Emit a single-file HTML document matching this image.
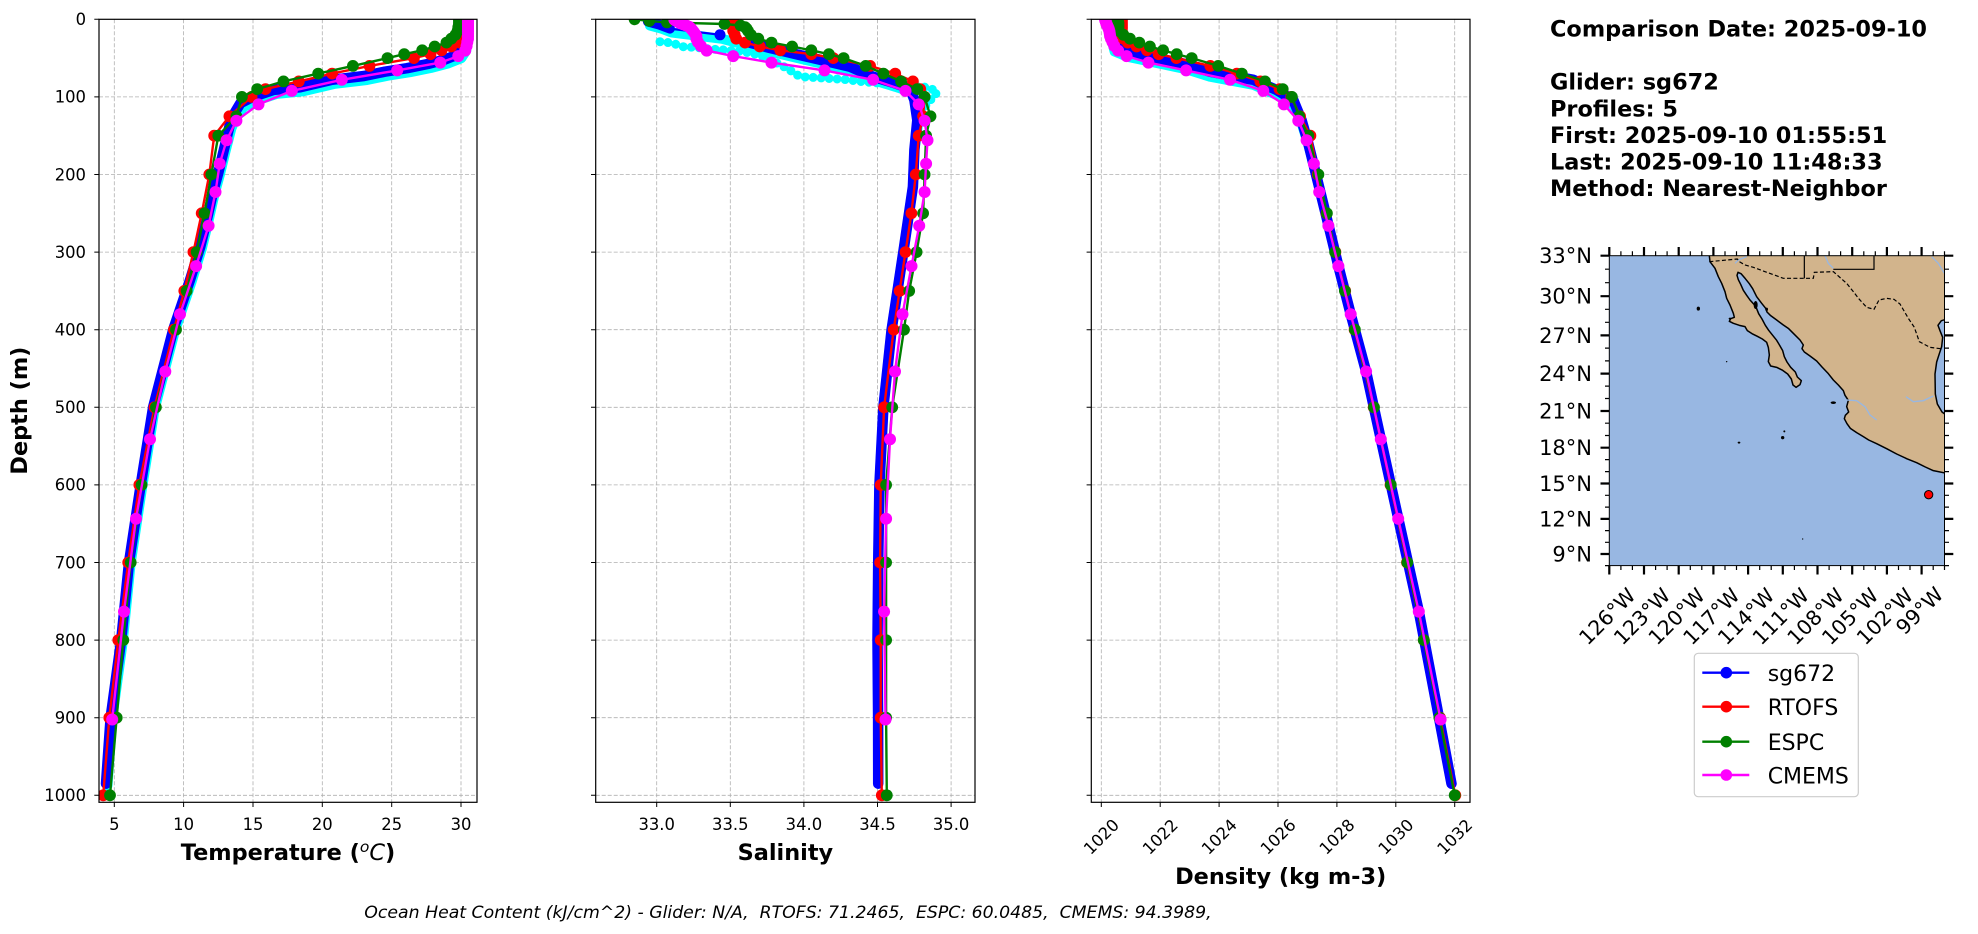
<!DOCTYPE html>
<html><head><meta charset="utf-8"><style>
html,body{margin:0;padding:0;background:#fff;width:1978px;height:934px;overflow:hidden}
svg{display:block}
text{font-family:"DejaVu Sans","Liberation Sans",sans-serif;fill:#000}
</style></head><body>
<svg width="1978" height="934" viewBox="0 0 1978 934" xmlns="http://www.w3.org/2000/svg">
<defs>
<clipPath id="c1"><rect x="99" y="19.3" width="378" height="783"/></clipPath>
<clipPath id="c2"><rect x="595.7" y="19.3" width="379.3" height="783"/></clipPath>
<clipPath id="c3"><rect x="1091.3" y="19.3" width="378.7" height="783"/></clipPath>
<clipPath id="cm"><rect x="328" y="77" width="1005.5" height="930"/></clipPath>
<marker id="mr" markerWidth="14" markerHeight="14" refX="7" refY="7" markerUnits="userSpaceOnUse"><circle cx="7" cy="7" r="5.9" fill="#ff0000"/></marker>
<marker id="mg" markerWidth="14" markerHeight="14" refX="7" refY="7" markerUnits="userSpaceOnUse"><circle cx="7" cy="7" r="5.9" fill="#008000"/></marker>
<marker id="mm" markerWidth="14" markerHeight="14" refX="7" refY="7" markerUnits="userSpaceOnUse"><circle cx="7" cy="7" r="6" fill="#ff00ff"/></marker>
</defs>
<rect width="1978" height="934" fill="#fff"/>

<!-- ===== GRID ===== -->
<g stroke="#b0b0b0" stroke-width="0.8" stroke-dasharray="4,2" fill="none">
<path d="M114.3,19.3V802.3M183.6,19.3V802.3M253,19.3V802.3M322.3,19.3V802.3M391.7,19.3V802.3M461,19.3V802.3"/>
<path d="M99,96.9H477M99,174.5H477M99,252.1H477M99,329.7H477M99,407.3H477M99,484.9H477M99,562.5H477M99,640.1H477M99,717.7H477M99,795.3H477"/>
<path d="M656.7,19.3V802.3M730.3,19.3V802.3M803.9,19.3V802.3M877.5,19.3V802.3M951.1,19.3V802.3"/>
<path d="M595.7,96.9H975M595.7,174.5H975M595.7,252.1H975M595.7,329.7H975M595.7,407.3H975M595.7,484.9H975M595.7,562.5H975M595.7,640.1H975M595.7,717.7H975M595.7,795.3H975"/>
<path d="M1101.3,19.3V802.3M1160.2,19.3V802.3M1219.1,19.3V802.3M1278,19.3V802.3M1336.9,19.3V802.3M1395.8,19.3V802.3M1454.7,19.3V802.3"/>
<path d="M1091.3,96.9H1470M1091.3,174.5H1470M1091.3,252.1H1470M1091.3,329.7H1470M1091.3,407.3H1470M1091.3,484.9H1470M1091.3,562.5H1470M1091.3,640.1H1470M1091.3,717.7H1470M1091.3,795.3H1470"/>
</g>

<!-- ===== PANEL 1: TEMPERATURE ===== -->
<g clip-path="url(#c1)" fill="none" stroke-linejoin="round" stroke-linecap="round">
<polyline stroke="#00ffff" stroke-width="10" points="467.5,23.3 467.5,38.8 466.3,50.5 461.3,58.2 447.4,63.7 430.8,68.0 410.0,72.2 387.8,75.7 367.0,80.0 335.1,83.8 303.2,91.3 276.8,93.9 256.0,100.7 243.5,107.1 235.6,118.7 231.4,128.4 225.4,151.7 219.8,174.9 214.3,195.1 208.2,222.3 201.8,248.7 191.5,282.0 174.7,331.7 154.6,409.3 142.2,486.9 130.5,564.5 122.7,642.1 112.1,719.7 107.5,785.7"/>
<polyline stroke="#0000ff" stroke-width="10.5" points="465.2,19.3 465.2,34.8 463.8,46.5 458.3,54.2 444.4,59.7 427.8,64.0 407.0,68.2 384.8,71.7 364.0,76.0 332.1,79.8 300.2,87.3 273.8,89.9 253.0,96.7 240.5,103.1 233.6,114.7 229.4,126.4 223.9,149.7 218.3,172.9 212.8,193.1 206.7,220.3 200.3,246.7 190.0,280.0 173.2,329.7 153.1,407.3 140.7,484.9 129.0,562.5 121.2,640.1 110.6,717.7 106.0,783.7"/>
<polyline stroke="#ff0000" stroke-width="2.4" marker-start="url(#mr)" marker-mid="url(#mr)" marker-end="url(#mr)" points="462.4,19.3 462.4,20.9 462.4,22.4 462.4,24.0 462.4,25.5 462.4,27.1 462.4,28.6 462.4,30.9 461.7,34.8 461.0,38.7 459.7,42.6 451.3,46.5 441.6,50.3 430.5,54.2 413.9,58.1 369.5,65.9 332.1,73.6 298.8,81.4 265.5,89.1 251.6,96.9 229.4,116.3 214.2,135.7 209.3,174.5 201.7,213.3 193.4,252.1 184.3,290.9 173.9,329.7 154.5,407.3 139.3,484.9 128.2,562.5 118.3,640.1 109.3,717.7 103.2,795.3"/>
<polyline stroke="#008000" stroke-width="2.4" marker-start="url(#mg)" marker-mid="url(#mg)" marker-end="url(#mg)" points="459.0,19.3 459.0,20.9 459.0,22.4 459.0,24.0 459.0,25.5 458.3,27.1 458.3,28.6 457.6,30.9 455.5,34.8 451.3,38.7 446.5,42.6 434.7,46.5 422.2,50.3 404.2,54.2 387.5,58.1 352.9,65.9 318.2,73.6 283.5,81.4 257.2,89.1 241.9,96.9 236.4,116.3 218.3,135.7 211.4,174.5 204.5,213.3 196.7,252.1 186.7,290.9 176.0,329.7 155.9,407.3 141.6,484.9 130.7,562.5 123.3,640.1 116.7,717.7 110.0,795.3"/>
<polyline stroke="#ff00ff" stroke-width="2.4" marker-start="url(#mm)" marker-mid="url(#mm)" marker-end="url(#mm)" points="468.0,19.7 468.0,20.5 468.0,21.3 468.0,22.3 468.0,23.3 468.0,24.3 468.0,25.4 468.0,26.7 468.0,28.1 468.0,29.8 468.0,31.6 468.0,33.7 468.0,36.1 468.0,38.9 467.3,42.1 466.6,46.0 465.2,50.6 458.3,56.1 440.3,62.6 397.2,70.4 341.8,79.8 291.8,90.9 258.5,104.4 236.4,120.7 226.6,140.3 219.7,163.7 215.5,192.0 208.6,225.7 196.1,266.1 180.0,314.3 165.3,371.5 150.0,439.2 136.0,518.7 124.0,611.6 112.2,719.5"/>
</g>

<!-- ===== PANEL 2: SALINITY ===== -->
<g clip-path="url(#c2)" fill="none" stroke-linejoin="round" stroke-linecap="round">
<polyline stroke="#00ffff" stroke-width="9" stroke-dasharray="0,8" points="660,41.7 672,43 683,46.7 697,47.5 710,49 725,50 743,51.7 760,55 775,62 787,68.3 800,76.7 815,77.5 827,78.3 845,79.5 863,81.7 878,83 893,85 910,86 923,86.7 937,90.7 935,96 928,102 922,112 919,125"/>
<polyline stroke="#00ffff" stroke-width="10" points="649.9,23.3 649.9,25.6 661.6,28.7 671.9,32.6 722.0,38.8 748.5,45.8 772.0,52.0 801.5,59.0 822.1,63.7 851.5,70.6 875.1,80.7 895.7,86.9 911.9,92.4 916.4,104.0 918.3,122.2 914.4,149.7 912.9,186.9 903.3,252.1 891.6,329.7 883.4,407.3 879.4,484.9 878.2,562.5 877.5,640.1 878.1,717.7 878.2,783.7"/>
<polyline stroke="#0000ff" stroke-width="2.2" points="669.9,28.6 720.0,34.8"/>
<polyline stroke="#0000ff" stroke-width="10" points="647.9,19.3 647.9,21.6 659.6,24.7 669.9,28.6"/>
<circle cx="720" cy="34.8" r="5.5" fill="#0000ff"/>
<polyline stroke="#0000ff" stroke-width="10.5" points="746.5,41.8 770.0,48.0 799.5,55.0 820.1,59.7 849.5,66.6 873.1,76.7 893.7,82.9 909.9,88.4 914.4,100.0 917.3,120.2 914.4,149.7 912.9,186.9 903.3,252.1 891.6,329.7 883.4,407.3 879.4,484.9 878.2,562.5 877.5,640.1 878.1,717.7 878.2,783.7"/>
<polyline stroke="#ff0000" stroke-width="2.4" marker-start="url(#mr)" marker-mid="url(#mr)" marker-end="url(#mr)" points="733.2,19.3 733.2,20.9 733.2,22.4 733.2,24.0 733.2,25.5 733.2,27.1 733.2,28.6 733.2,30.9 734.7,34.8 736.2,38.7 745.0,42.6 759.7,46.5 780.3,50.3 811.3,54.2 833.3,58.1 870.1,65.9 895.2,73.6 912.9,81.4 920.2,89.1 924.6,96.9 923.1,116.3 918.7,135.7 915.8,174.5 911.4,213.3 905.5,252.1 899.6,290.9 893.7,329.7 884.1,407.3 880.7,484.9 880.1,562.5 880.7,640.1 880.7,717.7 881.8,795.3"/>
<polyline stroke="#008000" stroke-width="2.4" marker-start="url(#mg)" marker-mid="url(#mg)" marker-end="url(#mg)" points="634.6,19.3 649.3,20.9 667.0,22.4 724.4,24.0 740.6,25.5 745.0,27.1 746.5,28.6 748.0,30.9 750.9,34.8 758.3,38.7 771.5,42.6 792.1,46.5 811.3,50.3 828.9,54.2 843.6,58.1 865.7,65.9 883.4,73.6 901.1,81.4 917.3,89.1 924.6,96.9 930.5,116.3 926.1,135.7 924.6,174.5 923.1,213.3 916.6,252.1 909.2,290.9 904.0,329.7 892.2,407.3 886.1,484.9 886.1,562.5 886.1,640.1 886.1,717.7 886.8,795.3"/>
<polyline stroke="#ff00ff" stroke-width="2.4" marker-start="url(#mm)" marker-mid="url(#mm)" marker-end="url(#mm)" points="674.4,19.7 675.8,20.5 677.3,21.3 678.8,22.3 680.3,23.3 683.2,24.3 686.1,25.4 689.1,26.7 690.6,28.1 692.0,29.8 693.5,31.6 695.0,33.7 696.4,36.1 696.4,38.9 697.9,42.1 700.9,46.0 706.7,50.6 733.2,56.1 771.5,62.6 824.5,70.4 873.1,79.8 905.5,90.9 918.7,104.4 924.6,120.7 927.5,140.3 926.1,163.7 924.6,192.0 919.2,225.7 911.5,266.1 902.5,314.3 895.0,371.5 890.0,439.2 886.1,518.7 884.1,611.6 885.5,719.5"/>
</g>

<!-- ===== PANEL 3: DENSITY ===== -->
<g clip-path="url(#c3)" fill="none" stroke-linejoin="round" stroke-linecap="round">
<polyline stroke="#00ffff" stroke-width="10" points="1111.6,24.3 1111.6,39.8 1114.6,51.5 1127.8,56.9 1157.3,63.1 1186.7,69.3 1210.0,76.7 1253.3,84.8 1276.5,94.9 1293.3,105.0 1301.6,123.2 1308.3,144.5 1316.6,176.8 1328.4,224.9 1338.4,266.1 1350.7,314.2 1366.1,371.6 1380.8,439.1 1398.2,518.3 1418.8,611.4 1439,717.7 1451.5,783.7"/>
<polyline stroke="#0000ff" stroke-width="10.5" points="1111.6,19.3 1111.6,34.8 1114.6,46.5 1127.8,51.9 1157.3,58.1 1186.7,64.3 1210.0,71.7 1253.3,79.8 1276.5,89.9 1293.3,100.0 1301.6,120.2 1308.3,143.5 1316.6,176.8 1328.4,224.9 1338.4,266.1 1350.7,314.2 1366.1,371.6 1380.8,439.1 1398.2,518.3 1418.8,611.4 1439,717.7 1451.5,783.7"/>
<polyline stroke="#ff0000" stroke-width="2.4" marker-start="url(#mr)" marker-mid="url(#mr)" marker-end="url(#mr)" points="1121.9,19.3 1121.9,20.9 1121.9,22.4 1121.9,24.0 1121.9,25.5 1121.9,27.1 1121.9,28.6 1121.9,30.9 1121.9,34.8 1123.4,38.7 1127.8,42.6 1136.6,46.5 1146.9,50.3 1158.7,54.2 1176.4,58.1 1210.3,65.9 1236.8,73.6 1260.3,81.4 1279.5,89.1 1291.3,96.9 1300.1,116.3 1310.4,135.7 1317.8,174.5 1326.6,213.3 1335.4,252.1 1345.2,290.9 1354.6,329.7 1373.7,407.3 1390.5,484.9 1407.0,562.5 1423.8,640.1 1440.0,717.7 1455.3,795.3"/>
<polyline stroke="#008000" stroke-width="2.4" marker-start="url(#mg)" marker-mid="url(#mg)" marker-end="url(#mg)" points="1117.5,19.3 1117.5,20.9 1118.4,22.4 1118.4,24.0 1118.4,25.5 1118.4,27.1 1118.4,28.6 1118.4,30.9 1123.4,34.8 1129.9,38.7 1139.3,42.6 1149.9,46.5 1163.1,50.3 1176.7,54.2 1191.7,58.1 1218.2,65.9 1241.8,73.6 1265.0,81.4 1282.7,89.1 1291.9,96.9 1299.2,116.3 1308.3,135.7 1318.4,174.5 1326.9,213.3 1335.1,252.1 1344.9,290.9 1354.9,329.7 1374.0,407.3 1390.8,484.9 1407.3,562.5 1423.8,640.1 1439.4,717.7 1454.7,795.3"/>
<polyline stroke="#ff00ff" stroke-width="2.4" marker-start="url(#mm)" marker-mid="url(#mm)" marker-end="url(#mm)" points="1105.1,19.7 1105.4,20.5 1105.7,21.3 1106.0,22.3 1106.3,23.3 1106.6,24.3 1107.2,25.4 1107.8,26.7 1108.4,28.1 1109.0,29.8 1109.5,31.6 1109.8,33.7 1110.1,36.1 1111.0,38.9 1112.5,42.1 1114.3,46.0 1118.1,50.6 1126.6,56.1 1148.4,62.6 1186.1,70.4 1230.0,79.8 1263.3,90.9 1283.9,104.4 1298.3,120.7 1306.6,140.3 1313.9,163.7 1319.2,192.0 1328.4,225.7 1338.4,266.1 1350.7,314.3 1366.1,371.5 1380.8,439.2 1398.2,518.7 1418.8,611.6 1440.6,719.5"/>
</g>

<!-- ===== SPINES & TICKS ===== -->
<g fill="none" stroke="#000">
<rect x="99" y="19.3" width="378" height="783" stroke-width="1.2"/>
<rect x="595.7" y="19.3" width="379.3" height="783" stroke-width="1.2"/>
<rect x="1091.3" y="19.3" width="378.7" height="783" stroke-width="1.2"/>
<path stroke-width="1" d="M94.3,19.3H99M94.3,96.9H99M94.3,174.5H99M94.3,252.1H99M94.3,329.7H99M94.3,407.3H99M94.3,484.9H99M94.3,562.5H99M94.3,640.1H99M94.3,717.7H99M94.3,795.3H99"/>
<path stroke-width="1" d="M591,19.3H595.7M591,96.9H595.7M591,174.5H595.7M591,252.1H595.7M591,329.7H595.7M591,407.3H595.7M591,484.9H595.7M591,562.5H595.7M591,640.1H595.7M591,717.7H595.7M591,795.3H595.7"/>
<path stroke-width="1" d="M1086.6,19.3H1091.3M1086.6,96.9H1091.3M1086.6,174.5H1091.3M1086.6,252.1H1091.3M1086.6,329.7H1091.3M1086.6,407.3H1091.3M1086.6,484.9H1091.3M1086.6,562.5H1091.3M1086.6,640.1H1091.3M1086.6,717.7H1091.3M1086.6,795.3H1091.3"/>
<path stroke-width="1" d="M114.3,802.3V807M183.6,802.3V807M253,802.3V807M322.3,802.3V807M391.7,802.3V807M461,802.3V807"/>
<path stroke-width="1" d="M656.7,802.3V807M730.3,802.3V807M803.9,802.3V807M877.5,802.3V807M951.1,802.3V807"/>
<path stroke-width="1" d="M1101.3,802.3V807M1160.2,802.3V807M1219.1,802.3V807M1278,802.3V807M1336.9,802.3V807M1395.8,802.3V807M1454.7,802.3V807"/>
</g>

<!-- tick labels -->
<g font-size="16.4" text-anchor="end">
<text x="86" y="25.1">0</text>
<text x="86" y="102.7">100</text>
<text x="86" y="180.3">200</text>
<text x="86" y="257.9">300</text>
<text x="86" y="335.5">400</text>
<text x="86" y="413.1">500</text>
<text x="86" y="490.7">600</text>
<text x="86" y="568.3">700</text>
<text x="86" y="645.9">800</text>
<text x="86" y="723.5">900</text>
<text x="86" y="801.1">1000</text>
</g>
<g font-size="16.4" text-anchor="middle">
<text x="114.3" y="830">5</text>
<text x="183.6" y="830">10</text>
<text x="253" y="830">15</text>
<text x="322.3" y="830">20</text>
<text x="391.7" y="830">25</text>
<text x="461" y="830">30</text>
<text x="656.7" y="830">33.0</text>
<text x="730.3" y="830">33.5</text>
<text x="803.9" y="830">34.0</text>
<text x="877.5" y="830">34.5</text>
<text x="951.1" y="830">35.0</text>
<text x="1101.3" y="842.5" transform="rotate(-45 1101.3 836.7)">1020</text>
<text x="1160.2" y="842.5" transform="rotate(-45 1160.2 836.7)">1022</text>
<text x="1219.1" y="842.5" transform="rotate(-45 1219.1 836.7)">1024</text>
<text x="1278" y="842.5" transform="rotate(-45 1278 836.7)">1026</text>
<text x="1336.9" y="842.5" transform="rotate(-45 1336.9 836.7)">1028</text>
<text x="1395.8" y="842.5" transform="rotate(-45 1395.8 836.7)">1030</text>
<text x="1454.7" y="842.5" transform="rotate(-45 1454.7 836.7)">1032</text>
</g>

<!-- axis labels -->
<g font-size="22.4" font-weight="bold" text-anchor="middle">
<text x="288" y="860">Temperature (<tspan font-weight="normal" font-style="italic" font-size="15.5" dy="-8">o</tspan><tspan font-weight="normal" font-style="italic" dy="8">C</tspan>)</text>
<text x="785.4" y="860">Salinity</text>
<text x="1280.7" y="884">Density (kg m-3)</text>
<text x="0" y="0" transform="translate(27 410.6) rotate(-90)">Depth (m)</text>
</g>

<text x="364.3" y="918" font-size="17.3" font-style="italic" style="white-space:pre" xml:space="preserve">Ocean Heat Content (kJ/cm^2) - Glider: N/A,  RTOFS: 71.2465,  ESPC: 60.0485,  CMEMS: 94.3989,</text>

<!-- info text -->
<g font-size="22.4" font-weight="bold">
<text x="1550" y="36.5">Comparison Date: 2025-09-10</text>
<text x="1550" y="89.7">Glider: sg672</text>
<text x="1550" y="116.3">Profiles: 5</text>
<text x="1550" y="142.9">First: 2025-09-10 01:55:51</text>
<text x="1550" y="169.5">Last: 2025-09-10 11:48:33</text>
<text x="1550" y="196.1">Method: Nearest-Neighbor</text>
</g>

<!-- ===== MAP ===== -->
<g transform="translate(1500 230) scale(0.333333)">
<g clip-path="url(#cm)">
<rect x="328" y="77" width="1006" height="930" fill="#98b7e2"/>
<path fill="#d2b48c" stroke="#000" stroke-width="4.5" stroke-linejoin="round" d="M628,77 L630,95 L645,115 L655,140 L665,160 L675,185 L680,205 L690,225 L700,250 L703,262 L692,266 L688,274 L700,280 L718,286 L735,290 L742,302 L756,311 L772,319 L787,327 L800,337 L805,352 L808,375 L805,395 L812,408 L830,412 L848,421 L863,432 L874,447 L879,465 L888,472 L900,464 L904,452 L892,441 L886,426 L872,412 L861,396 L853,380 L848,362 L839,346 L830,331 L818,316 L806,301 L796,286 L786,267 L776,251 L770,236 L762,223 L750,210 L740,196 L730,181 L722,163 L715,149 L711,136 L714,127 L723,131 L736,146 L748,161 L758,176 L770,200 L785,220 L797,235 L801,246 L812,257 L830,270 L850,285 L866,296 L881,311 L900,330 L910,345 L906,356 L913,366 L930,378 L950,393 L966,411 L985,431 L1000,450 L1015,465 L1030,482 L1035,496 L1045,511 L1040,530 L1046,546 L1036,556 L1033,566 L1041,581 L1051,595 L1070,608 L1090,620 L1106,630 L1130,641 L1160,656 L1190,672 L1220,686 L1250,698 L1276,711 L1300,722 L1345,731 L1345,560 L1326,546 L1312,522 L1306,492 L1305,432 L1310,396 L1318,371 L1325,350 L1328,322 L1320,302 L1314,286 L1324,272 L1345,266 L1345,60 L628,60 Z"/>
<g fill="none" stroke="#98b7e2" stroke-width="4">
<path d="M1040,510 L1070,512 L1095,530 L1110,555 L1130,570"/>
<path d="M1218,500 L1240,515 L1270,512 L1300,498"/>
<path d="M1295,80 L1315,100 L1333,130"/>
<path d="M705,100 L715,90 L740,80"/>
<path d="M975,77 L985,100 L1000,115"/>
</g>
<g fill="none" stroke="#000" stroke-width="3.6" stroke-dasharray="12,7">
<path d="M628,95 L712,87 L718,95 L735,105 L760,112 L850,145 L913,145 L940,145 L943,127 L1000,125 L1040,160 L1060,185 L1078,208 L1100,232 L1122,238 L1137,210 L1160,205 L1182,208 L1200,222 L1225,265 L1243,292 L1258,335 L1290,352 L1328,357"/>
</g>
<path fill="none" stroke="#000" stroke-width="3.6" d="M913,77 L913,145 M1000,118 L1122,118 L1122,77"/>
<g fill="#000">
<ellipse cx="595" cy="236" rx="5" ry="6"/>
<ellipse cx="690" cy="266" rx="4" ry="3"/>
<ellipse cx="767" cy="225" rx="6" ry="12"/>
<ellipse cx="800" cy="238" rx="4" ry="5"/>
<ellipse cx="717" cy="638" rx="4" ry="3"/>
<ellipse cx="848" cy="623" rx="5" ry="5"/>
<ellipse cx="853" cy="604" rx="3" ry="3"/>
<ellipse cx="1000" cy="518" rx="8" ry="4"/>
<ellipse cx="908" cy="927" rx="2" ry="2"/>
<ellipse cx="680" cy="395" rx="2" ry="2"/>
</g>
<circle cx="1286" cy="794" r="12.5" fill="#ff0000" stroke="#000" stroke-width="3"/>
</g>
</g>
<rect x="1609.3" y="255.7" width="335.2" height="309.9" fill="none" stroke="#000" stroke-width="1"/>
<!-- map ticks -->
<g stroke="#000" fill="none">
<path stroke-width="2.2" d="M1609.3,255.7V247M1644,255.7V247M1678.7,255.7V247M1713.4,255.7V247M1748.1,255.7V247M1782.8,255.7V247M1817.5,255.7V247M1852.2,255.7V247M1886.9,255.7V247M1921.6,255.7V247
M1609.3,565.6V574.5M1644,565.6V574.5M1678.7,565.6V574.5M1713.4,565.6V574.5M1748.1,565.6V574.5M1782.8,565.6V574.5M1817.5,565.6V574.5M1852.2,565.6V574.5M1886.9,565.6V574.5M1921.6,565.6V574.5
M1609.3,255.7H1600.5M1609.3,296.2H1600.5M1609.3,335.4H1600.5M1609.3,373.6H1600.5M1609.3,411H1600.5M1609.3,447.7H1600.5M1609.3,483.5H1600.5M1609.3,518.9H1600.5M1609.3,554H1600.5
M1944.5,255.7H1953.3M1944.5,296.2H1953.3M1944.5,335.4H1953.3M1944.5,373.6H1953.3M1944.5,411H1953.3M1944.5,447.7H1953.3M1944.5,483.5H1953.3M1944.5,518.9H1953.3M1944.5,554H1953.3"/>
<path stroke-width="1.2" d="M1620.9,255.7V251.2M1632.4,255.7V251.2M1655.6,255.7V251.2M1667.1,255.7V251.2M1690.3,255.7V251.2M1701.8,255.7V251.2M1725,255.7V251.2M1736.5,255.7V251.2M1759.7,255.7V251.2M1771.2,255.7V251.2M1794.4,255.7V251.2M1805.9,255.7V251.2M1829.1,255.7V251.2M1840.6,255.7V251.2M1863.8,255.7V251.2M1875.3,255.7V251.2M1898.5,255.7V251.2M1910,255.7V251.2M1933.2,255.7V251.2M1944.5,255.7V251.2
M1620.9,565.6V570M1632.4,565.6V570M1655.6,565.6V570M1667.1,565.6V570M1690.3,565.6V570M1701.8,565.6V570M1725,565.6V570M1736.5,565.6V570M1759.7,565.6V570M1771.2,565.6V570M1794.4,565.6V570M1805.9,565.6V570M1829.1,565.6V570M1840.6,565.6V570M1863.8,565.6V570M1875.3,565.6V570M1898.5,565.6V570M1910,565.6V570M1933.2,565.6V570M1944.5,565.6V570
M1609.3,269.2H1605M1609.3,282.7H1605M1609.3,309.3H1605M1609.3,322.3H1605M1609.3,348.1H1605M1609.3,360.9H1605M1609.3,386.1H1605M1609.3,398.5H1605M1609.3,423.2H1605M1609.3,435.5H1605M1609.3,459.6H1605M1609.3,471.6H1605M1609.3,495.3H1605M1609.3,507.1H1605M1609.3,530.6H1605M1609.3,542.3H1605M1609.3,565.6H1605
M1944.5,269.2H1949M1944.5,282.7H1949M1944.5,309.3H1949M1944.5,322.3H1949M1944.5,348.1H1949M1944.5,360.9H1949M1944.5,386.1H1949M1944.5,398.5H1949M1944.5,423.2H1949M1944.5,435.5H1949M1944.5,459.6H1949M1944.5,471.6H1949M1944.5,495.3H1949M1944.5,507.1H1949M1944.5,530.6H1949M1944.5,542.3H1949M1944.5,565.6H1949"/>
</g>
<g font-size="21" text-anchor="end">
<text x="1592" y="263.2">33°N</text>
<text x="1592" y="303.7">30°N</text>
<text x="1592" y="342.9">27°N</text>
<text x="1592" y="381.1">24°N</text>
<text x="1592" y="418.5">21°N</text>
<text x="1592" y="455.2">18°N</text>
<text x="1592" y="491">15°N</text>
<text x="1592" y="526.4">12°N</text>
<text x="1592" y="561.5">9°N</text>
</g>
<g font-size="20.5" text-anchor="middle">
<text x="1607.3" y="623.5" transform="rotate(-45 1607.3 616.5)">126°W</text>
<text x="1642" y="623.5" transform="rotate(-45 1642 616.5)">123°W</text>
<text x="1676.7" y="623.5" transform="rotate(-45 1676.7 616.5)">120°W</text>
<text x="1711.4" y="623.5" transform="rotate(-45 1711.4 616.5)">117°W</text>
<text x="1746.1" y="623.5" transform="rotate(-45 1746.1 616.5)">114°W</text>
<text x="1780.8" y="623.5" transform="rotate(-45 1780.8 616.5)">111°W</text>
<text x="1815.5" y="623.5" transform="rotate(-45 1815.5 616.5)">108°W</text>
<text x="1850.2" y="623.5" transform="rotate(-45 1850.2 616.5)">105°W</text>
<text x="1884.9" y="623.5" transform="rotate(-45 1884.9 616.5)">102°W</text>
<text x="1919.6" y="617.8" transform="rotate(-45 1919.6 610.8)">99°W</text>
</g>

<!-- ===== LEGEND ===== -->
<rect x="1694.3" y="653.3" width="164" height="143.4" rx="4" ry="4" fill="#fff" stroke="#cccccc" stroke-width="1.2"/>
<g stroke-width="2.4">
<line x1="1702.3" y1="672.7" x2="1749.3" y2="672.7" stroke="#0000ff"/>
<circle cx="1726.3" cy="672.7" r="5.8" fill="#0000ff"/>
<line x1="1702.3" y1="706.7" x2="1749.3" y2="706.7" stroke="#ff0000"/>
<circle cx="1726.3" cy="706.7" r="5.8" fill="#ff0000"/>
<line x1="1702.3" y1="741.7" x2="1749.3" y2="741.7" stroke="#008000"/>
<circle cx="1726.3" cy="741.7" r="5.8" fill="#008000"/>
<line x1="1702.3" y1="775" x2="1749.3" y2="775" stroke="#ff00ff"/>
<circle cx="1726.3" cy="775" r="5.8" fill="#ff00ff"/>
</g>
<g font-size="22">
<text x="1767.7" y="681">sg672</text>
<text x="1767.7" y="715">RTOFS</text>
<text x="1767.7" y="750">ESPC</text>
<text x="1767.7" y="783.3">CMEMS</text>
</g>
</svg>
</body></html>
